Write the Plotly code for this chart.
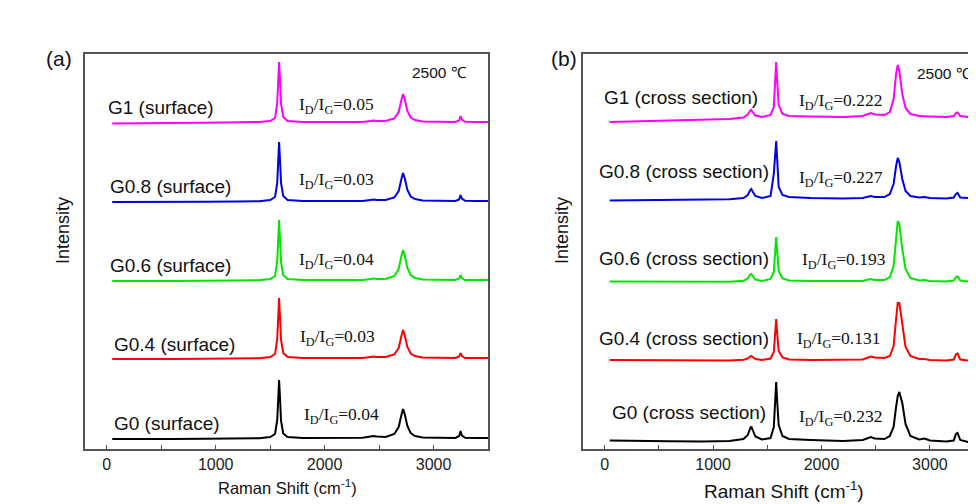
import plotly.graph_objects as go

# ---------------- data ----------------
# Panel (a): surface spectra, Raman shift (cm-1) and offset intensity (a.u.)
shift_a = [50, 300, 600, 900, 1200, 1400, 1500, 1545, 1565, 1575, 1582, 1590, 1600, 1620, 1660,
           1800, 2100, 2350, 2420, 2450, 2480, 2560, 2640, 2680, 2705, 2720, 2735, 2760, 2790,
           2830, 2900, 3050, 3200, 3235, 3248, 3260, 3290, 3400, 3500]

g0_surface = [10, 10.3, 10, 10.2, 10.5, 10.8, 12, 15, 29, 54, 69, 52, 28, 15.5, 12,
              11, 10.8, 11.2, 12.5, 13, 12.5, 12, 15, 22, 34, 40, 35, 23, 16,
              13, 11.5, 11, 11, 13, 18, 13.5, 11.2, 11, 11]
g04_surface = [90, 90.3, 90, 90.2, 90.4, 90.8, 92, 95, 110, 136, 151, 133, 109, 96, 92,
               91, 90.8, 91, 92, 92.5, 92, 92, 94.5, 101, 113, 119, 114, 102, 95.5,
               93, 91.5, 91, 91, 92.5, 96, 93, 91, 91, 91]
g06_surface = [168, 168.3, 168, 168.2, 168.4, 168.8, 170, 173, 188, 214, 229, 211, 187, 174, 170,
               169, 168.8, 169, 170, 170.5, 170, 170, 173, 180, 193, 199, 194, 181, 174,
               171, 169.5, 169, 169, 170.5, 174, 171, 169, 169, 169]
g08_surface = [247, 247.3, 247, 247.3, 247.5, 247.8, 249, 252, 266, 292, 307, 290, 266, 253, 249,
               248, 247.8, 248, 249, 249.5, 249, 249, 251.5, 258, 270, 276, 271, 259, 252.5,
               250, 248.5, 248, 248, 249.5, 254, 250.5, 248.2, 248, 248]
g1_surface = [325.5, 326, 326, 326.2, 326.5, 327, 328, 331, 346, 372, 387, 370, 345, 332, 328,
              327, 326.8, 327, 328, 328.5, 328, 328, 330.5, 337, 349, 355, 350, 338, 331.5,
              329, 327.5, 327, 327, 328.5, 333, 329.5, 327.2, 327, 327]

# Panel (b): cross-section spectra
shift_b = [46, 300, 600, 900, 1150, 1280, 1320, 1340, 1352, 1365, 1390, 1450, 1530, 1560, 1573,
           1582, 1591, 1605, 1640, 1700, 1900, 2200, 2380, 2430, 2455, 2490, 2580, 2630, 2665,
           2688, 2703, 2718, 2745, 2775, 2820, 2900, 2950, 3000, 3150, 3220, 3240, 3255, 3280,
           3350, 3430]

g0_cross = [8.5, 8, 7.8, 7.6, 8, 10, 14, 20, 22.5, 19, 12.5, 9.5, 11, 22, 50,
            67, 48, 24, 13, 10, 9, 8, 9, 11.5, 12, 10.5, 10, 13, 22,
            42, 53, 57, 46, 25, 13, 9.5, 10.5, 8.5, 7.5, 8.5, 15, 16, 9,
            7, 7]
g04_cross = [89, 88.8, 88.6, 88.5, 88.6, 89.2, 90.5, 92.5, 93, 92, 90, 89, 90.5, 97, 118,
             130, 116, 98, 91.5, 89.5, 89, 89, 89.5, 91.5, 92.5, 91.5, 91, 93, 103,
             130, 146, 146, 123, 102, 93, 90, 90, 89, 88.5, 89.5, 94.5, 95.5, 89.5,
             88.5, 88.5]
g06_cross = [167.5, 167.3, 167.2, 167.2, 167.3, 168.2, 170.5, 174, 175, 173, 169.5, 168, 170, 177, 200,
             212, 198, 178, 170.5, 168.5, 168, 167.8, 168, 169.5, 170, 169, 169, 172, 183,
             210, 228, 225, 200, 180, 171, 168.5, 169, 168, 167.5, 168.5, 172, 172.5, 168.5,
             167.5, 167.5]
g08_cross = [248.5, 248.8, 249, 249.3, 249.8, 251, 254, 258.5, 260, 257.5, 253, 251, 253, 275, 296,
             308, 290, 262, 254, 252, 251, 250.5, 251, 252.5, 253, 252, 252, 255, 265,
             283, 291, 287, 270, 258, 253, 251.5, 252, 251, 250.5, 251.5, 255, 256, 251.5,
             251, 251]
g1_cross = [327, 327.8, 328.5, 329.3, 330, 331.5, 334.5, 338, 339, 337, 333.5, 332, 334, 342, 372,
            387, 368, 344, 335, 333, 332.5, 332, 333, 335, 336, 334.5, 334, 337, 350,
            375, 384, 378, 355, 341, 335, 333, 333, 332.5, 332, 333, 336, 336.5, 333,
            332, 332]

labels_a = ["G0 (surface)", "G0.4 (surface)", "G0.6 (surface)", "G0.8 (surface)", "G1 (surface)"]
labels_b = ["G0 (cross section)", "G0.4 (cross section)", "G0.6 (cross section)",
            "G0.8 (cross section)", "G1 (cross section)"]
ratios_a = ["0.04", "0.03", "0.04", "0.03", "0.05"]
ratios_b = ["0.232", "0.131", "0.193", "0.227", "0.222"]
colors = ["#000000", "#ff0000", "#00e600", "#0000e6", "#ff00ff"]
x_ticks = [0, 1000, 2000, 3000]

series_a = [g0_surface, g04_surface, g06_surface, g08_surface, g1_surface]
series_b = [g0_cross, g04_cross, g06_cross, g08_cross, g1_cross]

# ---------------- figure ----------------
# page body has an 8px default margin: size the figure so it ends at the window edge
OFF = 8
W, H = 976 - OFF, 504 - OFF
SANS = "Liberation Sans, Arial, sans-serif"
SERIF = "Liberation Serif, Times New Roman, serif"
FRAME = "#555555"

fig = go.Figure()
for ys, c in zip(series_a, colors):
    fig.add_trace(go.Scatter(x=shift_a, y=ys, mode="lines", xaxis="x", yaxis="y",
                             line=dict(color=c, width=2), showlegend=False, hoverinfo="skip"))
for ys, c in zip(series_b, colors):
    fig.add_trace(go.Scatter(x=shift_b, y=ys, mode="lines", xaxis="x2", yaxis="y2",
                             line=dict(color=c, width=2), showlegend=False, hoverinfo="skip"))


def px(x):
    return (x - OFF) / W


def py(y):
    return 1 - (y - OFF) / H


xcommon = dict(showline=True, linecolor=FRAME, linewidth=1.5, mirror=True, ticks="inside",
               ticklen=4, tickcolor=FRAME, tickvals=x_ticks, showgrid=False, zeroline=False,
               tickfont=dict(family=SANS, size=16, color="#222"),
               minor=dict(ticks="inside", ticklen=4, dtick=500, tick0=0, tickcolor=FRAME, showgrid=False))
ycommon = dict(showline=True, linecolor=FRAME, linewidth=1.5, showticklabels=False, ticks="",
               showgrid=False, zeroline=False, range=[0, 395], domain=[py(449), py(54)])

fig.update_layout(
    width=W, height=H, margin=dict(l=0, r=0, t=0, b=0),
    paper_bgcolor="white", plot_bgcolor="white",
    xaxis=dict(xcommon, domain=[px(85), px(488)], range=[-200, 3500], anchor="y"),
    yaxis=dict(ycommon, mirror=True, anchor="x"),
    xaxis2=dict(xcommon, domain=[px(583), 1.0], range=[-200, 3425], anchor="y2"),
    yaxis2=dict(ycommon, mirror=False, anchor="x2"),
)

ann = []


def add(text, x, y, size, family=SANS, xanchor="left", angle=0, color="#111"):
    ann.append(dict(text=text, x=px(x), y=py(y), xref="paper", yref="paper", showarrow=False,
                    xanchor=xanchor, yanchor="middle", textangle=angle,
                    font=dict(family=family, size=size, color=color)))


# panel labels, axis titles
add("(a)", 59, 58, 21, xanchor="center")
add("(b)", 564, 58, 21, xanchor="center")
add("Intensity", 63, 231, 18, xanchor="center", angle=-90)
add("Intensity", 562, 231, 18, xanchor="center", angle=-90)
add("Raman Shift (cm<sup>-1</sup>)", 287, 487, 16.5, xanchor="center")
add("Raman Shift (cm<sup>-1</sup>)", 784, 490, 19, xanchor="center")
add("2500 ℃", 410, 72, 15.5)
add("2500 ℃", 915, 73, 15.5)

# sample labels
lab_a_pos = [(112, 423), (112, 344), (108, 265), (108, 187), (106, 107)]
rat_a_pos = [(302, 415), (298, 337), (297, 260), (297, 180), (297, 105)]
lab_b_pos = [(610, 412), (597, 338), (597, 258), (597, 172), (602, 97)]
rat_b_pos = [(797, 417), (795, 339), (800, 260), (797, 178), (797, 101)]

for t, (x, y) in zip(labels_a, lab_a_pos):
    add(t, x, y, 19)
for t, (x, y) in zip(labels_b, lab_b_pos):
    add(t, x, y, 19)
for r, (x, y) in zip(ratios_a, rat_a_pos):
    add("I<sub>D</sub>/I<sub>G</sub>=" + r, x, y, 17.5, family=SERIF)
for r, (x, y) in zip(ratios_b, rat_b_pos):
    add("I<sub>D</sub>/I<sub>G</sub>=" + r, x, y, 17.5, family=SERIF)

fig.update_layout(annotations=ann)
fig.write_html("out.html")
